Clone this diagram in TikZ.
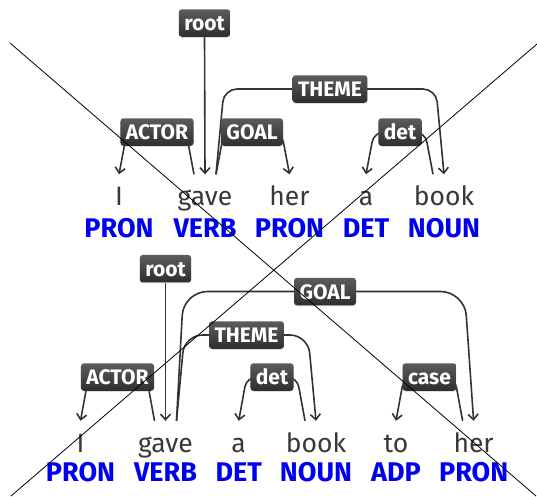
\documentclass[tikz,border=0pt]{standalone}
\usepackage{fontspec}
\setmainfont{Fira Sans}
\newfontfamily\wordfont{Fira Sans}
\usetikzlibrary{arrows.meta,shadows}
\definecolor{wordgray}{HTML}{383838}
\definecolor{arcgray}{HTML}{333333}
\definecolor{labtop}{HTML}{5C5C5C}
\definecolor{labbot}{HTML}{2E2E2E}
\definecolor{posblue}{HTML}{0000F0}
\tikzset{
  word/.style={font=\wordfont\fontsize{26.5}{26.5}\selectfont, text=wordgray, anchor=base, inner sep=0pt, text height=31pt},
  tag/.style={font=\fontsize{27}{27}\selectfont\bfseries, text=posblue, anchor=base, inner sep=0pt},
  rel/.style={rectangle, rounded corners=3pt, top color=labtop, bottom color=labbot, text=white,
    font=\fontsize{21}{21}\selectfont\bfseries, inner xsep=5.5pt, inner ysep=0pt, minimum height=27.5pt,
    text height=15pt, text depth=0pt, drop shadow={shadow xshift=0pt, shadow yshift=-1pt, opacity=0.25}},
  arc/.style={draw=arcgray, line width=1.6pt, -{Straight Barb[length=5.5pt,width=10pt]}}
}
\begin{document}
\begin{tikzpicture}[x=1pt,y=-1pt]
  \useasboundingbox (0,0) rectangle (537,496);
  % first sentence
  \draw (119.0, 205.5)node[word](i1){I};
  \draw (205.0, 205.5)node[word](v1){gave};
  \draw (289.5, 205.5)node[word](p1){her};
  \draw (366.0, 205.5)node[word](d1){a};
  \draw (444.0, 205.5)node[word](n1){book};
  \draw (119.0, 237.3)node[tag](ti1){PRON};
  \draw (205.0, 237.3)node[tag](tv1){VERB};
  \draw (289.5, 237.3)node[tag](tp1){PRON};
  \draw (366.0, 237.3)node[tag](td1){DET};
  \draw (444.0, 237.3)node[tag](tn1){NOUN};
  \path (204.5, 23.0)coordinate(root1c);
  \path (330.0, 89.0)coordinate(theme1c);
  \path (157.0, 132.0)coordinate(actor1c);
  \path (252.0, 132.0)coordinate(goal1c);
  \path (400.0, 132.0)coordinate(det1c);
  \draw[arc] (root1c |- 0,36.6) -- (v1.north);
  \draw[arc, rounded corners=13pt] ([xshift=11pt]v1.north) -- ([xshift=19pt]v1.north |- theme1c) -- ([xshift=-8pt]n1.north |- theme1c) -- (n1.north);
  \draw[arc, rounded corners=10pt] ([xshift=-11pt]v1.north) -- ([xshift=-19pt]v1.north |- actor1c) -- ([xshift=8pt]i1.north |- actor1c) -- (i1.north);
  \draw[arc, rounded corners=10pt] ([xshift=11pt]v1.north) -- ([xshift=19pt]v1.north |- goal1c) -- ([xshift=-8pt]p1.north |- goal1c) -- (p1.north);
  \draw[arc, rounded corners=10pt] ([xshift=-11pt]n1.north) -- ([xshift=-19pt]n1.north |- det1c) -- ([xshift=8pt]d1.north |- det1c) -- (d1.north);
  \node[rel](root1) at (root1c){root};
  \node[rel](theme1) at (theme1c){THEME};
  \node[rel](actor1) at (actor1c){ACTOR};
  \node[rel](goal1) at (goal1c){GOAL};
  \node[rel](det1) at (det1c){det};
  % second sentence
  \draw (80.5, 452.0)node[word](i2){I};
  \draw (165.5, 452.0)node[word](v2){gave};
  \draw (238.7, 452.0)node[word](d2){a};
  \draw (316.0, 452.0)node[word](n2){book};
  \draw (396.0, 452.0)node[word](a2){to};
  \draw (473.6, 452.0)node[word](p2){her};
  \draw (80.5, 481.8)node[tag](ti2){PRON};
  \draw (165.5, 481.8)node[tag](tv2){VERB};
  \draw (238.7, 481.8)node[tag](td2){DET};
  \draw (316.0, 481.8)node[tag](tn2){NOUN};
  \draw (396.0, 481.8)node[tag](ta2){ADP};
  \draw (473.6, 481.8)node[tag](tp2){PRON};
  \path (165.5, 268.7)coordinate(root2c);
  \path (325.0, 291.5)coordinate(goal2c);
  \path (246.5, 335.0)coordinate(theme2c);
  \path (117.5, 377.0)coordinate(actor2c);
  \path (272.0, 377.0)coordinate(det2c);
  \path (429.5, 377.0)coordinate(case2c);
  \draw[arc] (root2c |- 0,282.5) -- (v2.north);
  \draw[arc, rounded corners=24pt] ([xshift=11pt]v2.north) -- ([xshift=18pt]v2.north |- goal2c) -- ([xshift=-9pt]p2.north |- goal2c) -- (p2.north);
  \draw[arc, rounded corners=18pt] ([xshift=11pt]v2.north) -- ([xshift=19pt]v2.north |- theme2c) -- ([xshift=-8pt]n2.north |- theme2c) -- (n2.north);
  \draw[arc, rounded corners=10pt] ([xshift=-11pt]v2.north) -- ([xshift=-19pt]v2.north |- actor2c) -- ([xshift=8pt]i2.north |- actor2c) -- (i2.north);
  \draw[arc, rounded corners=10pt] ([xshift=-11pt]n2.north) -- ([xshift=-19pt]n2.north |- det2c) -- ([xshift=8pt]d2.north |- det2c) -- (d2.north);
  \draw[arc, rounded corners=10pt] ([xshift=-11pt]p2.north) -- ([xshift=-19pt]p2.north |- case2c) -- ([xshift=8pt]a2.north |- case2c) -- (a2.north);
  \node[rel](root2) at (root2c){root};
  \node[rel](goal2) at (goal2c){GOAL};
  \node[rel](theme2) at (theme2c){THEME};
  \node[rel](actor2) at (actor2c){ACTOR};
  \node[rel](det2) at (det2c){det};
  \node[rel](case2) at (case2c){case};
  % crossing lines
  \coordinate (xa) at (10,43);
  \coordinate (xb) at (536,496);
  \coordinate (ya) at (537,44);
  \coordinate (yb) at (11,496);
  \draw[line width=0.8pt] (xa) -- (xb);
  \draw[line width=0.8pt] (ya) -- (yb);
\end{tikzpicture}
\end{document}
